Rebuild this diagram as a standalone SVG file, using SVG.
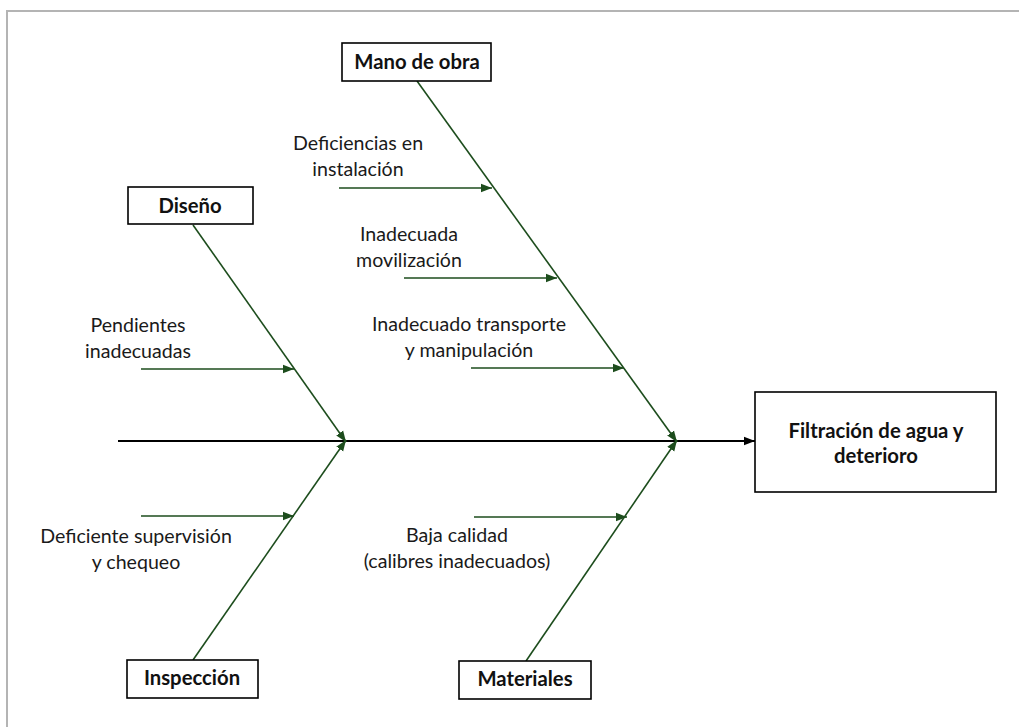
<svg xmlns="http://www.w3.org/2000/svg" width="1019" height="727" viewBox="0 0 1019 727">
  <style>
    .frame { fill: #ffffff; stroke: #b4b4b4; stroke-width: 2; }
    .box { fill: #ffffff; stroke: #000000; stroke-width: 1.6; }
    .cat { font-family: Lato, "Open Sans", sans-serif; font-weight: bold; font-size: 20.3px; fill: #111111; text-anchor: middle; }
    .lbl { font-family: Lato, "Open Sans", sans-serif; font-size: 19.6px; fill: #1a1a1a; text-anchor: middle; }
    .bone { stroke: #1d4d1d; stroke-width: 1.6; fill: none; marker-end: url(#ah-green); }
    .spine { stroke: #000000; stroke-width: 1.8; fill: none; marker-end: url(#ah-black); }
  </style>
  <defs>
    <marker id="ah-green" markerUnits="userSpaceOnUse" markerWidth="12" markerHeight="10" refX="11" refY="5" orient="auto">
      <path d="M0,0.8 L11,5 L0,9.2 Z" fill="#1d4d1d"/>
    </marker>
    <marker id="ah-black" markerUnits="userSpaceOnUse" markerWidth="12" markerHeight="10" refX="11" refY="5" orient="auto">
      <path d="M0,0.8 L11,5 L0,9.2 Z" fill="#000000"/>
    </marker>
  </defs>

  <rect width="1019" height="727" fill="#ffffff"/>
  <rect class="frame" x="7" y="11" width="1030" height="740"/>

  <!-- connectors -->
  <g id="connectors">
    <line class="spine" x1="118" y1="441" x2="755" y2="441"/>
    <line class="bone" x1="417" y1="81" x2="677" y2="442"/>
    <line class="bone" x1="193" y1="225" x2="346" y2="442"/>
    <line class="bone" x1="193" y1="660" x2="346" y2="440"/>
    <line class="bone" x1="526" y1="661" x2="677" y2="440"/>
    <line class="bone" x1="339" y1="188" x2="492" y2="188"/>
    <line class="bone" x1="404" y1="278" x2="557" y2="278"/>
    <line class="bone" x1="471" y1="368" x2="624" y2="368"/>
    <line class="bone" x1="141" y1="369" x2="294" y2="369"/>
    <line class="bone" x1="141" y1="516" x2="294" y2="516"/>
    <line class="bone" x1="474" y1="517" x2="627" y2="517"/>
  </g>

  <!-- category nodes -->
  <g id="mano-de-obra">
    <rect class="box" x="342" y="43" width="149" height="38"/>
    <text class="cat" x="417" y="69">Mano de obra</text>
  </g>
  <g id="diseno">
    <rect class="box" x="128" y="187" width="125" height="37"/>
    <text class="cat" x="190" y="213">Diseño</text>
  </g>
  <g id="inspeccion">
    <rect class="box" x="127" y="660" width="131" height="38"/>
    <text class="cat" x="192" y="685">Inspección</text>
  </g>
  <g id="materiales">
    <rect class="box" x="459" y="661" width="132" height="38"/>
    <text class="cat" x="525" y="686">Materiales</text>
  </g>

  <!-- effect node -->
  <g id="efecto">
    <rect class="box" x="755" y="392" width="241" height="100"/>
    <text class="cat" x="876" y="438">Filtración de agua y</text>
    <text class="cat" x="876" y="463">deterioro</text>
  </g>

  <!-- cause labels -->
  <g id="causa-deficiencias">
    <text class="lbl" x="358" y="150">Deficiencias en</text>
    <text class="lbl" x="358" y="176">instalación</text>
  </g>
  <g id="causa-movilizacion">
    <text class="lbl" x="409" y="241">Inadecuada</text>
    <text class="lbl" x="409" y="267">movilización</text>
  </g>
  <g id="causa-transporte">
    <text class="lbl" x="469" y="331">Inadecuado transporte</text>
    <text class="lbl" x="469" y="357">y manipulación</text>
  </g>
  <g id="causa-pendientes">
    <text class="lbl" x="138" y="332">Pendientes</text>
    <text class="lbl" x="138" y="358">inadecuadas</text>
  </g>
  <g id="causa-supervision">
    <text class="lbl" x="136" y="543">Deficiente supervisión</text>
    <text class="lbl" x="136" y="569">y chequeo</text>
  </g>
  <g id="causa-calidad">
    <text class="lbl" x="457" y="542">Baja calidad</text>
    <text class="lbl" x="457" y="568">(calibres inadecuados)</text>
  </g>
</svg>
